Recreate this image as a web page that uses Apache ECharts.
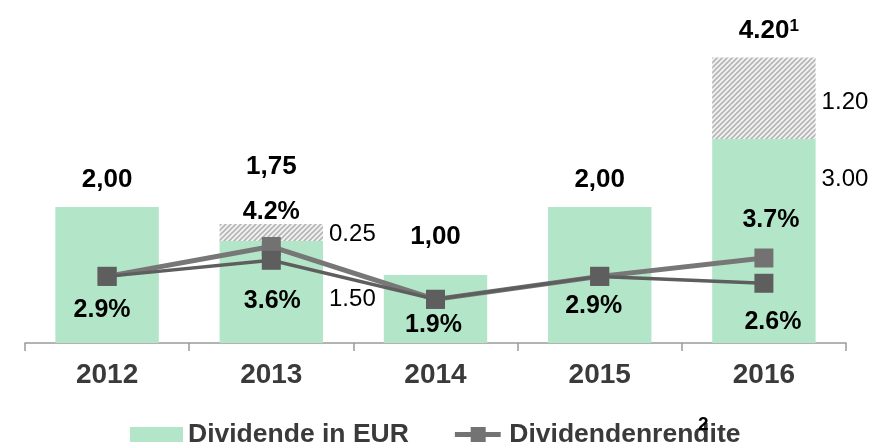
<!DOCTYPE html>
<html>
<head>
<meta charset="utf-8">
<script src="https://cdn.jsdelivr.net/npm/echarts@6/dist/echarts.min.js"></script>
<style>
html, body { margin: 0; padding: 0; background: #fff; }
#chart { width: 890px; height: 448px; }
</style>
</head>
<body>
<div id="chart"></div>
<script>
// data
const years = ['2012', '2013', '2014', '2015', '2016']
const regularDividend = [2.00, 1.50, 1.00, 2.00, 3.00]
const specialDividend = [0, 0.25, 0, 0, 1.20]
const totalLabels = ['2,00', '1,75', '1,00', '2,00', '4.20']
const totalNotes = ['', '', '', '', '1']
const yieldTotal = [2.9, 4.2, 1.9, 2.9, 3.7]
const yieldRegular = [2.9, 3.6, 1.9, 2.9, 2.6]

const FONT = '"Liberation Sans", Arial, sans-serif'
const totals = regularDividend.map((v, i) => v + specialDividend[i])

// hatched pattern for the special dividend part
function hatch() {
  const s = 5
  const c = document.createElement('canvas')
  c.width = s
  c.height = s
  const ctx = c.getContext('2d')
  ctx.fillStyle = '#f2f2f2'
  ctx.fillRect(0, 0, s, s)
  ctx.strokeStyle = '#b5b5b5'
  ctx.lineWidth = 1.6
  ctx.beginPath()
  ctx.moveTo(0, s); ctx.lineTo(s, 0)
  ctx.moveTo(-1, 1); ctx.lineTo(1, -1)
  ctx.moveTo(s - 1, s + 1); ctx.lineTo(s + 1, s - 1)
  ctx.stroke()
  return c
}

// label tweaks per category
const totalGap = [14, 44, 25, 14, 14]
const sideLabel = {
  regular: { 1: [0, 7], 4: [0, -62] },
  special: { 1: [0, 2], 4: [0, 4] }
}
const lowGap = [12, 19, 4, 8, 17]
const lowShift = [-5, 1, -2, -6, 9]
const highLabel = { 1: [12, 0], 4: [16, 7] }

function segData(values, key) {
  return values.map((v, i) => {
    const off = sideLabel[key][i]
    return {
      value: v,
      label: off ? { show: true, position: 'right', distance: 6, offset: off } : { show: false }
    }
  })
}

const chart = echarts.init(document.getElementById('chart'))
chart.setOption({
  animation: false,
  textStyle: { fontFamily: FONT },
  grid: { left: 25, right: 44, top: 3, bottom: 105 },
  legend: {
    data: [
      { name: 'Dividende in EUR', icon: 'rect' },
      {
        name: 'Dividendenrendite',
        icon: 'path://M0,6H55V12H0Z M19,0H37V18H19Z',
        itemStyle: { color: '#737373' }
      }
    ],
    padding: 0,
    left: 130,
    top: 421,
    itemWidth: 53,
    itemHeight: 15,
    itemGap: 46,
    textStyle: { fontSize: 26.5, fontWeight: 'bold', color: '#3a3a3a', fontFamily: FONT }
  },
  xAxis: {
    type: 'category',
    data: years,
    axisLine: { lineStyle: { color: '#9a9a9a', width: 1.5 } },
    axisTick: { show: true, length: 8, interval: 0, lineStyle: { color: '#9a9a9a', width: 1.5 } },
    axisLabel: { fontSize: 28, fontWeight: 'bold', color: '#3a3a3a', margin: 18, fontFamily: FONT }
  },
  yAxis: [
    { type: 'value', min: 0, max: 5, show: false },
    { type: 'value', min: 0, max: 14.8, show: false }
  ],
  graphic: [{
    type: 'text', left: 698, top: 415, z: 100,
    style: { text: '2', fontSize: 19, fontWeight: 'bold', fill: '#000', fontFamily: FONT }
  }],
  series: [
    {
      name: 'Dividende in EUR',
      type: 'bar',
      stack: 'div',
      barWidth: '63%',
      itemStyle: { color: '#b3e6c9' },
      label: { fontSize: 24, color: '#000', formatter: p => p.value.toFixed(2) },
      data: segData(regularDividend, 'regular')
    },
    {
      name: 'Sonderdividende',
      type: 'bar',
      stack: 'div',
      barWidth: '63%',
      itemStyle: { color: { image: hatch(), repeat: 'repeat' } },
      label: { fontSize: 24, color: '#000', formatter: p => p.value.toFixed(2) },
      data: segData(specialDividend, 'special')
    },
    {
      name: 'Summe',
      type: 'scatter',
      symbolSize: 0,
      silent: true,
      itemStyle: { opacity: 1 },
      data: totals.map((v, i) => ({
        value: v,
        label: { distance: totalGap[i], offset: totalNotes[i] ? [5, 0] : [0, 0] }
      })),
      label: {
        show: true,
        position: 'top',
        color: '#000',
        formatter: p => '{v|' + totalLabels[p.dataIndex] + '}' +
          (totalNotes[p.dataIndex] ? '{s|' + totalNotes[p.dataIndex] + '}' : ''),
        rich: {
          v: { fontSize: 26, fontWeight: 'bold', color: '#000', fontFamily: FONT },
          s: { fontSize: 17, fontWeight: 'bold', color: '#000', verticalAlign: 'top', lineHeight: 16, fontFamily: FONT }
        }
      }
    },
    {
      name: 'Dividendenrendite',
      type: 'line',
      yAxisIndex: 1,
      symbol: 'rect',
      symbolSize: 19,
      z: 5,
      itemStyle: { color: '#727272' },
      lineStyle: { color: '#777777', width: 5 },
      data: yieldTotal.map((v, i) => {
        const l = highLabel[i]
        return {
          value: v,
          label: l ? { show: true, position: 'top', distance: l[0], offset: [l[1], 0] } : { show: false }
        }
      }),
      label: { fontSize: 25, fontWeight: 'bold', color: '#000', formatter: p => p.value.toFixed(1) + '%' }
    },
    {
      name: 'Rendite regulär',
      type: 'line',
      yAxisIndex: 1,
      symbol: 'rect',
      symbolSize: 19,
      z: 6,
      itemStyle: { color: '#5e5e5e' },
      lineStyle: { color: '#5e5e5e', width: 3.5 },
      data: yieldRegular.map((v, i) => ({
        value: v,
        label: { distance: lowGap[i], offset: [lowShift[i], 0] }
      })),
      label: {
        show: true, position: 'bottom',
        fontSize: 25, fontWeight: 'bold', color: '#000',
        formatter: p => p.value.toFixed(1) + '%'
      }
    }
  ]
})
</script>
</body>
</html>
